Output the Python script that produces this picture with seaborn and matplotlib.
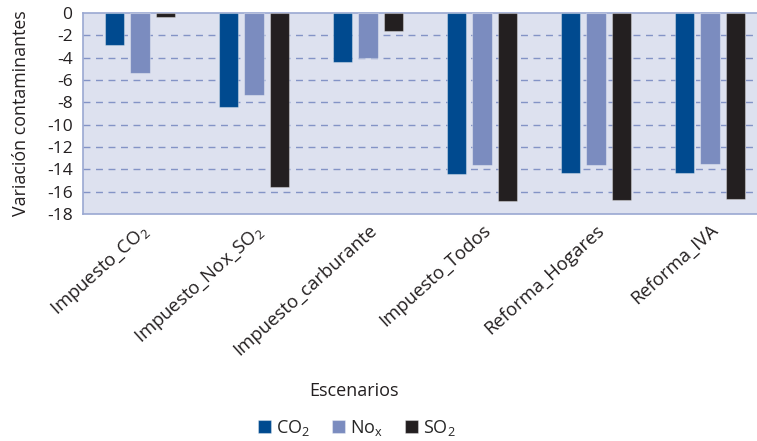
import matplotlib
matplotlib.use("Agg")
import matplotlib.pyplot as plt
import seaborn as sns
import pandas as pd

# Scenario results: change in pollutant emissions
escenarios = ["Impuesto_CO$_{\\mathregular{2}}$", "Impuesto_Nox_SO$_{\\mathregular{2}}$",
              "Impuesto_carburante", "Impuesto_Todos", "Reforma_Hogares", "Reforma_IVA"]
contaminantes = ["CO$_{\\mathregular{2}}$", "No$_{\\mathregular{x}}$", "SO$_{\\mathregular{2}}$"]
co2 = [-2.9, -8.4, -4.35, -14.4, -14.35, -14.3]
nox = [-5.4, -7.35, -4.0, -13.6, -13.6, -13.55]
so2 = [-0.4, -15.6, -1.6, -16.8, -16.75, -16.7]
yticks = list(range(0, -19, -2))

colores = ["#004a8f", "#7b8cbf", "#231f20"]

df = pd.DataFrame({
    "Escenarios": escenarios * 3,
    "valor": co2 + nox + so2,
    "contaminante": [c for c in contaminantes for _ in escenarios],
})

sns.set_theme(style="white")
plt.rcParams["font.family"] = ["Open Sans", "DejaVu Sans"]
plt.rcParams["mathtext.fontset"] = "custom"
plt.rcParams["mathtext.rm"] = "Open Sans"
plt.rcParams["mathtext.it"] = "Open Sans"

fig = plt.figure(figsize=(7.57, 4.41), dpi=100)
ax = fig.add_axes([83 / 757, 1 - 214 / 441, (767 - 83) / 757, (214 - 13) / 441])
ax.set_facecolor("#dde1ef")

sns.barplot(data=df, x="Escenarios", y="valor", hue="contaminante",
            order=escenarios, hue_order=contaminantes, palette=colores,
            width=0.672, gap=0.24, saturation=1, ax=ax,
            edgecolor=(1, 1, 1, 0.35), linewidth=0.8, zorder=3)

ax.set_ylim(-18, 0)
ax.set_yticks(yticks)
ax.set_yticklabels([str(t) for t in yticks], fontsize=12.5, color="#231f20")
ax.set_xlim(-0.5, len(escenarios) - 0.5)

for t in yticks[1:-1]:
    ax.axhline(t, color="#8393c6", lw=1.0, ls=(0, (5, 4)), zorder=1)

for s in ax.spines.values():
    s.set_color("#9aa8d2")
    s.set_linewidth(1.2)

ax.tick_params(axis="y", length=0, pad=7.5)
ax.tick_params(axis="x", length=0, pad=5)
ax.set_xticks(range(len(escenarios)))
ax.set_xticklabels(escenarios, rotation=42, ha="right", va="top",
                   rotation_mode="anchor", fontsize=13.3, color="#231f20")

ax.set_ylabel("Variación contaminantes", fontsize=12.8, color="#231f20")
ax.yaxis.set_label_coords((30 - 83) / 684, 0.5)
ax.set_xlabel("Escenarios", fontsize=13, color="#231f20")
ax.xaxis.set_label_coords((354 - 83) / 684, -168 / 201)

handles, labels = ax.get_legend_handles_labels()
ax.legend_.remove()
fig.legend(handles, labels, loc="center", bbox_to_anchor=(357 / 757, 1 - 428 / 441),
           ncol=3, frameon=False, fontsize=13, handlelength=0.7, handleheight=0.7,
           handletextpad=0.3, columnspacing=1.2)

fig.savefig("out.png", dpi=100)
